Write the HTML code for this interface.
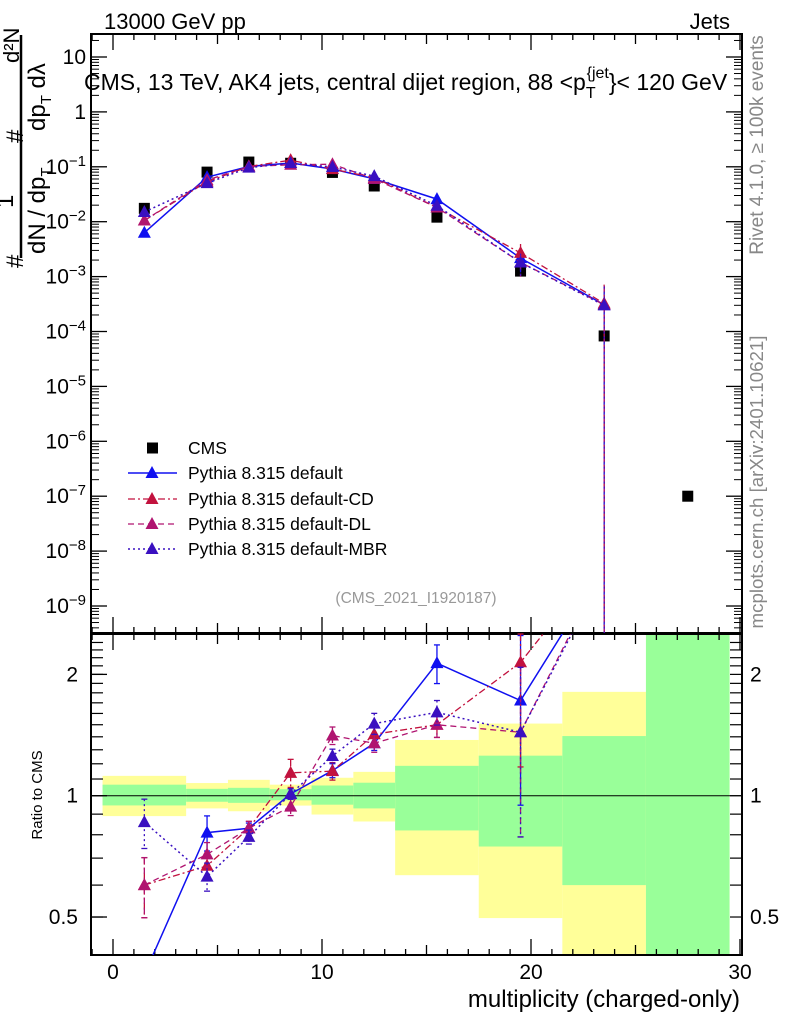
<!DOCTYPE html>
<html><head><meta charset="utf-8"><style>
html,body{margin:0;padding:0;background:#fff}
svg{display:block;font-family:"Liberation Sans",sans-serif}
</style></head><body>
<svg id="chart" width="786" height="1024" viewBox="0 0 786 1024" xmlns="http://www.w3.org/2000/svg">
<g id="bands"></g>
<g id="grid"></g>
<g id="series"></g>
<text x="104" y="29" font-size="22">13000 GeV pp</text>
<text x="730" y="29" font-size="22" text-anchor="end">Jets</text>
<text x="84" y="90" font-size="23">CMS, 13 TeV, AK4 jets, central dijet region, 88 &lt;p<tspan font-size="16" dy="8">T</tspan><tspan font-size="16" dx="-9" dy="-20">{jet</tspan><tspan dy="12">}&lt; 120 GeV</tspan></text>
<text x="416" y="603" font-size="15.5" fill="#999" text-anchor="middle">(CMS_2021_I1920187)</text>
<text transform="translate(763,145) rotate(-90)" font-size="19" fill="#888" text-anchor="middle">Rivet 4.1.0, ≥ 100k events</text>
<text transform="translate(763,482) rotate(-90)" font-size="18.7" fill="#888" text-anchor="middle">mcplots.cern.ch [arXiv:2401.10621]</text>
<g font-size="24">
<line x1="21" y1="35" x2="21" y2="258" stroke="#000" stroke-width="2.5"/>
<text transform="translate(19,63) rotate(-90)" font-size="22">d²N</text>
<text transform="translate(23,143) rotate(-90)">#</text>
<text transform="translate(13,208) rotate(-90)">1</text>
<text transform="translate(23,268) rotate(-90)">#</text>
<text transform="translate(45,254) rotate(-90)">dN / dp<tspan font-size="15" dy="6">T</tspan></text>
<text transform="translate(45,131) rotate(-90)">dp<tspan font-size="15" dy="6">T</tspan><tspan dy="-6"> dλ</tspan></text>
</g>
<text transform="translate(42,795) rotate(-90)" font-size="15" text-anchor="middle">Ratio to CMS</text>
<text x="740" y="1007" font-size="24" text-anchor="end">multiplicity (charged-only)</text>
<g id="legend"></g>
</svg>
<script>
const xCenters = [1.5,4.5,6.5,8.5,10.5,12.5,15.5,19.5,23.5,27.5];
const binEdges = [-0.5,3.5,5.5,7.5,9.5,11.5,13.5,17.5,21.5,25.5,29.5];
const cmsValues = [0.0175,0.08,0.122,0.116,0.079,0.0447,0.0121,0.00126,8.3e-5,1e-7];
const yellowHi = [1.12,1.075,1.095,1.065,1.108,1.146,1.375,1.51,1.81,3];
const yellowLo = [0.89,0.93,0.915,0.945,0.898,0.863,0.635,0.497,0.3,0.3];
const greenHi = [1.065,1.04,1.046,1.038,1.06,1.077,1.186,1.257,1.406,3];
const greenLo = [0.946,0.966,0.96,0.974,0.95,0.93,0.82,0.748,0.60,0.3];
const mcDefault = [0.0063,0.0648,0.1013,0.1172,0.0912,0.0603,0.0258,0.00217,0.000307];
const mcCD = [0.0105,0.0536,0.1013,0.1322,0.0909,0.0635,0.01815,0.0027,0.000324];
const mcDL = [0.0105,0.0572,0.1013,0.109,0.1114,0.0603,0.01815,0.00181,0.000307];
const mcMBR = [0.01505,0.0504,0.0964,0.1172,0.0991,0.0675,0.01948,0.00181,0.000299];
const relErrDefault = [0.05,0.1,0.03,0.03,0.04,0.04,0.11,0.45,1.2];
const relErrCD = [0.17,0.07,0.04,0.08,0.05,0.05,0.07,0.45,1.2];
const relErrDL = [0.17,0.07,0.04,0.05,0.05,0.05,0.07,0.45,1.2];
const relErrMBR = [0.14,0.08,0.04,0.03,0.04,0.06,0.07,0.45,1.2];
const topTicks = [1,0,-1,-2,-3,-4,-5,-6,-7,-8,-9];
const topTickBase = ["10","1","10","10","10","10","10","10","10","10","10"];
const topTickExp = ["","","−1","−2","−3","−4","−5","−6","−7","−8","−9"];
const ratioTicks = [2,1,0.5];
const ratioTickLabels = ["2","1","0.5"];
const xTicks = [0,10,20,30];

const NS="http://www.w3.org/2000/svg";
const L=91,R=742,T1=34,B1=633,T2=634,B2=955;
const X=v=>113+v*20.9;
const Ytop=v=>57+(1-Math.log10(v))*54.9;
const Yr=v=>795.7-Math.log10(v)*403;
function mk(tag,parent,attrs){const e=document.createElementNS(NS,tag);for(const k in attrs)e.setAttribute(k,attrs[k]);document.getElementById(parent).appendChild(e);return e;}
const clampR=y=>Math.max(T2,Math.min(B2,y));
const clampT=y=>Math.max(T1,Math.min(B1,y));

for(let i=0;i<binEdges.length-1;i++){
  const x1=X(binEdges[i]),x2=X(binEdges[i+1]);
  let e=mk('rect','bands',{x:x1,y:clampR(Yr(yellowHi[i])),width:x2-x1,height:clampR(Yr(yellowLo[i]))-clampR(Yr(yellowHi[i])),fill:'#ffff99'});
  
  
  e=mk('rect','bands',{x:x1,y:clampR(Yr(greenHi[i])),width:x2-x1,height:clampR(Yr(greenLo[i]))-clampR(Yr(greenHi[i])),fill:'#99ff99'});
  
  
}
mk('rect','grid',{x:L,y:T1,width:R-L,height:B1-T1,fill:'none',stroke:'#000','stroke-width':2});
mk('rect','grid',{x:L,y:T2,width:R-L,height:B2-T2,fill:'none',stroke:'#000','stroke-width':2});
mk('line','grid',{x1:L,y1:Yr(1),x2:R,y2:Yr(1),stroke:'#000','stroke-width':1});
for(let v=-1;v<=30;v++){
  const big=v%10===0, mid=v%5===0;
  const len=big?16:(mid?10:6);
  for(const [t,b] of [[T1,B1],[T2,B2]]){
    mk('line','grid',{x1:X(v),y1:b,x2:X(v),y2:b-len,stroke:'#000','stroke-width':1.3});
    mk('line','grid',{x1:X(v),y1:t,x2:X(v),y2:t+len,stroke:'#000','stroke-width':1.3});
  }
}
xTicks.forEach(v=>{const t=mk('text','grid',{x:X(v),y:979,'font-size':21,'text-anchor':'middle'});t.textContent=v;

});
topTicks.forEach((p,i)=>{
  const y=Ytop(Math.pow(10,p));
  mk('line','grid',{x1:L,y1:y,x2:L+16,y2:y,stroke:'#000','stroke-width':1.3});
  mk('line','grid',{x1:R,y1:y,x2:R-16,y2:y,stroke:'#000','stroke-width':1.3});
  for(let m=2;m<=9;m++){const yy=Ytop(m*Math.pow(10,p-1));if(yy>T1&&yy<B1){
    mk('line','grid',{x1:L,y1:yy,x2:L+8,y2:yy,stroke:'#000','stroke-width':1});
    mk('line','grid',{x1:R,y1:yy,x2:R-8,y2:yy,stroke:'#000','stroke-width':1});}}
  const t=mk('text','grid',{x:86,y:y+7,'font-size':21,'text-anchor':'end'});
  
  
  t.appendChild(document.createTextNode(topTickBase[i]));
  if(topTickExp[i]){const ts=document.createElementNS(NS,'tspan');ts.setAttribute('font-size','15');ts.setAttribute('dy','-8');ts.textContent=topTickExp[i];t.appendChild(ts);}
});
{for(let m=2;m<=9;m++){const yy=Ytop(m*10);if(yy>T1){mk('line','grid',{x1:L,y1:yy,x2:L+8,y2:yy,stroke:'#000'});mk('line','grid',{x1:R,y1:yy,x2:R-8,y2:yy,stroke:'#000'});}}}
for(let v=0.4;v<=2.5;v+=0.1){const y=Yr(v);if(y>T2&&y<B2){
  mk('line','grid',{x1:L,y1:y,x2:L+12,y2:y,stroke:'#000','stroke-width':1.2});
  mk('line','grid',{x1:R,y1:y,x2:R-12,y2:y,stroke:'#000','stroke-width':1.2});}}
ratioTicks.forEach((v,i)=>{const y=Yr(v);
  mk('line','grid',{x1:L,y1:y,x2:L+16,y2:y,stroke:'#000','stroke-width':1.3});
  let t=mk('text','grid',{x:78,y:y+7,'font-size':21,'text-anchor':'end'});t.textContent=ratioTickLabels[i];
  
  
  t=mk('text','grid',{x:750,y:y+7,'font-size':21});t.textContent=ratioTickLabels[i];
  
  
});
cmsValues.forEach((v,i)=>{const e=mk('rect','series',{x:X(xCenters[i])-5.5,y:Ytop(v)-5.5,width:11,height:11,fill:'#000'});

});
const seriesList=[
 {name:'default',vals:mcDefault,err:relErrDefault,color:'#1010f0',dash:'',w:1.5},
 {name:'default-CD',vals:mcCD,err:relErrCD,color:'#c2123e',dash:'7 3 2 3',w:1.3},
 {name:'default-DL',vals:mcDL,err:relErrDL,color:'#b01470',dash:'6 4',w:1.3},
 {name:'default-MBR',vals:mcMBR,err:relErrMBR,color:'#3a10c0',dash:'2 3',w:1.5}];
const tri=(x,y)=>`${x},${y-7} ${x-6.5},${y+5} ${x+6.5},${y+5}`;
seriesList.forEach(s=>{
  const g=mk('g','series',{});
  
  
  const gid='s'+s.name.replace(/-/g,'');g.id=gid;
  let pt=s.vals.map((v,i)=>X(xCenters[i])+','+Ytop(v)).join(' ');
  mk('polyline',gid,{points:pt,fill:'none',stroke:s.color,'stroke-width':s.w,'stroke-dasharray':s.dash});
  let pr=s.vals.map((v,i)=>X(xCenters[i])+','+Yr(v/cmsValues[i])).join(' ');
  const cp='clip'+gid;
  const cl=mk('clipPath',gid,{id:cp});
  const cr=document.createElementNS(NS,'rect');
  cr.setAttribute('x',L);cr.setAttribute('y',T2);cr.setAttribute('width',R-L);cr.setAttribute('height',B2-T2);
  cl.appendChild(cr);
  mk('polyline',gid,{points:pr,fill:'none',stroke:s.color,'stroke-width':s.w,'stroke-dasharray':s.dash,'clip-path':`url(#${cp})`});
  s.vals.forEach((v,i)=>{
    const x=X(xCenters[i]),e=s.err[i];
    const lo=v*(1-e)>0?Ytop(v*(1-e)):B1;
    mk('line',gid,{x1:x,y1:clampT(Ytop(v*(1+e))),x2:x,y2:clampT(lo),stroke:s.color,'stroke-width':1.3,'stroke-dasharray':s.dash});
    const m=mk('polygon',gid,{points:tri(x,Ytop(v)),fill:s.color});
    
    
    const r=v/cmsValues[i],yr=Yr(r);
    if(yr>T2&&yr<B2){
      const lo2=r*(1-e)>0?Yr(r*(1-e)):B2;
      mk('line',gid,{x1:x,y1:clampR(Yr(r*(1+e))),x2:x,y2:clampR(lo2),stroke:s.color,'stroke-width':1.3,'stroke-dasharray':s.dash});
      mk('line',gid,{x1:x-3,y1:clampR(Yr(r*(1+e))),x2:x+3,y2:clampR(Yr(r*(1+e))),stroke:s.color,'stroke-width':1.3});
      mk('line',gid,{x1:x-3,y1:clampR(lo2),x2:x+3,y2:clampR(lo2),stroke:s.color,'stroke-width':1.3});
      const rm=mk('polygon',gid,{points:tri(x,yr),fill:s.color});
      
      
    }
  });
});
const legLabels=['CMS','Pythia 8.315 default','Pythia 8.315 default-CD','Pythia 8.315 default-DL','Pythia 8.315 default-MBR'];
const legY=[448,473,499,524,549];
legLabels.forEach((lab,i)=>{
  const y=legY[i];
  if(i===0){mk('rect','legend',{x:147,y:y-5.5,width:11,height:11,fill:'#000'});}
  else{const s=seriesList[i-1];
    mk('line','legend',{x1:128,y1:y,x2:177,y2:y,stroke:s.color,'stroke-width':s.w,'stroke-dasharray':s.dash});
    mk('polygon','legend',{points:tri(152,y),fill:s.color});}
  const t=mk('text','legend',{x:188,y:y+6,'font-size':17.5});t.textContent=lab;
  
  
});
</script>
</body></html>
